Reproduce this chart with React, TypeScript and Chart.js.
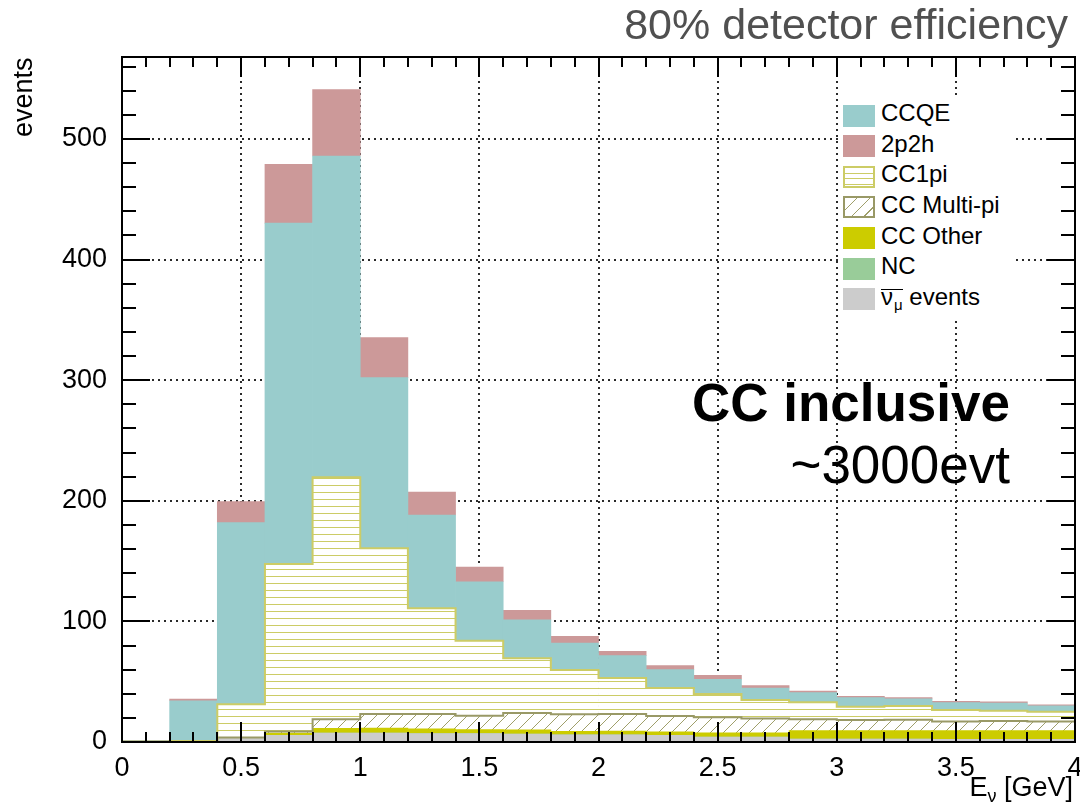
import React, { useEffect, useRef } from 'react';
import { Chart, registerables } from 'chart.js';

Chart.register(...registerables);

// ---- histogram binning (GeV) ----
const binLowEdges = [0, 0.2, 0.4, 0.6, 0.8, 1.0, 1.2, 1.4, 1.6, 1.8, 2.0, 2.2, 2.4, 2.6, 2.8, 3.0, 3.2, 3.4, 3.6, 3.8];
const binWidth = 0.2;

// ---- event counts per bin, one array per interaction channel ----
const antiNumuEvents = [0.3, 0.5, 3, 5.5, 7.5, 7.5, 7, 7, 6.5, 6, 6, 5.5, 4, 4, 2.5, 2.5, 2.5, 2.2, 2.2, 2.2];
const ncEvents = [0, 0, 0, 0, 0, 0, 0, 0, 0, 0, 0, 0, 0, 0, 0, 0, 0, 0, 0, 0];
const ccOtherEvents = [0, 0, 0.5, 2, 3.8, 4, 4, 3.3, 3.5, 2.8, 3, 3, 3.7, 3.7, 6.9, 6.9, 6.9, 7.2, 7.2, 7.2];
const ccMultiPiEvents = [0, 0, 0.3, 1.3, 7.5, 11.7, 12.2, 11.5, 14, 14.2, 14.3, 13.1, 12.8, 11.7, 9.4, 8.8, 9.1, 7.7, 8.0, 7.7];
const cc1piEvents = [0, 0.3, 27.5, 138.8, 200.7, 137.4, 87.7, 62.2, 45.4, 36.7, 29.8, 23.2, 19.3, 15.4, 14.1, 11.1, 11.4, 9.4, 8.6, 8.0];
const ccqeEvents = [0.7, 33.4, 150.6, 282.7, 266.4, 141.5, 77.3, 48.9, 31.8, 22.4, 18.5, 15.2, 12.2, 10.0, 8.0, 7.5, 5.8, 6.1, 6.3, 4.8];
const twoP2hEvents = [0, 1.4, 17.4, 48.7, 55.1, 33.2, 19.1, 12.2, 8.0, 5.5, 3.6, 3.3, 3.3, 1.9, 1.4, 1.1, 1.1, 1.1, 1.1, 1.0];

// ---- axis ticks ----
const xTickValues = [0, 0.5, 1, 1.5, 2, 2.5, 3, 3.5, 4];
const xTickLabels = ['0', '0.5', '1', '1.5', '2', '2.5', '3', '3.5', '4'];
const yTickValues = [0, 100, 200, 300, 400, 500];
const yTickLabels = ['0', '100', '200', '300', '400', '500'];
const xMinorStep = 0.1;
const yMinorStep = 20;
const X_MIN = 0;
const X_MAX = 4;
const Y_MAX = 568;

const FONT = '"Liberation Sans", Arial, Helvetica, sans-serif';
const CANVAS_W = 1100;
const CANVAS_H = 803;
const AREA = { left: 122, right: 1075, top: 57, bottom: 742 };

const COLORS = {
  ccqe: '#99cccc',
  twoP2h: '#cc9999',
  cc1pi: '#cccc66',
  multiPi: '#999966',
  ccOther: '#cccc00',
  nc: '#99cc99',
  antiNumu: '#cccccc',
};

function makeHorizontalHatch(): CanvasPattern {
  const c = document.createElement('canvas');
  c.width = 8;
  c.height = 7;
  const g = c.getContext('2d')!;
  g.fillStyle = '#ffffff';
  g.fillRect(0, 0, 8, 7);
  g.fillStyle = COLORS.cc1pi;
  g.fillRect(0, 2, 8, 1);
  return g.createPattern(c, 'repeat')!;
}

function makeDiagonalHatch(): CanvasPattern {
  const s = 13;
  const c = document.createElement('canvas');
  c.width = s;
  c.height = s;
  const g = c.getContext('2d')!;
  g.fillStyle = '#ffffff';
  g.fillRect(0, 0, s, s);
  g.strokeStyle = '#9f9f6a';
  g.lineWidth = 1;
  g.beginPath();
  for (const off of [-s, 0, s]) {
    g.moveTo(off, s);
    g.lineTo(off + s, 0);
  }
  g.stroke();
  return g.createPattern(c, 'repeat')!;
}

const binPoints = (vals: number[]) => binLowEdges.map((lo, i) => ({ x: lo + binWidth / 2, y: vals[i] }));

const cumulative = (layers: number[][]) => binLowEdges.map((_, i) => layers.reduce((s, l) => s + l[i], 0));

// step outline of a stacked histogram, closed down to zero at both ends
function stepOutline(tops: number[]) {
  const last = binLowEdges.length - 1;
  const hi = binLowEdges[last] + binWidth;
  const pts = [{ x: binLowEdges[0], y: 0 }];
  tops.forEach((t, i) => pts.push({ x: binLowEdges[i], y: t }));
  pts.push({ x: hi, y: tops[last] });
  pts.push({ x: hi, y: 0 });
  return pts;
}

// dotted grid behind the histograms, ROOT-style frame and inward ticks on top
const frameAndGrid = {
  id: 'frameAndGrid',
  beforeDatasetsDraw(chart: any) {
    const { ctx, chartArea: a, scales } = chart;
    const x = scales.x;
    const y = scales.y;
    ctx.save();
    ctx.strokeStyle = '#2a2a2a';
    ctx.lineWidth = 2;
    ctx.setLineDash([2, 4]);
    ctx.beginPath();
    for (const v of xTickValues) {
      if (v <= X_MIN || v >= X_MAX) continue;
      const px = Math.round(x.getPixelForValue(v));
      ctx.moveTo(px, a.top);
      ctx.lineTo(px, a.bottom);
    }
    for (const v of yTickValues) {
      if (v <= 0) continue;
      const py = Math.round(y.getPixelForValue(v));
      ctx.moveTo(a.left, py);
      ctx.lineTo(a.right, py);
    }
    ctx.stroke();
    ctx.restore();
  },
  afterDatasetsDraw(chart: any) {
    const { ctx, chartArea: a, scales } = chart;
    const x = scales.x;
    const y = scales.y;
    ctx.save();
    ctx.strokeStyle = '#000';
    ctx.lineWidth = 2;
    ctx.beginPath();
    const nx = Math.round((X_MAX - X_MIN) / xMinorStep);
    for (let k = 0; k <= nx; k++) {
      const v = X_MIN + k * xMinorStep;
      const px = Math.round(x.getPixelForValue(v));
      const len = k % 5 === 0 ? 20 : 10;
      ctx.moveTo(px, a.bottom);
      ctx.lineTo(px, a.bottom - len);
      ctx.moveTo(px, a.top);
      ctx.lineTo(px, a.top + len);
    }
    for (let v = 0; v <= Y_MAX; v += yMinorStep) {
      const py = Math.round(y.getPixelForValue(v));
      const len = v % 100 === 0 ? 28 : 14;
      ctx.moveTo(a.left, py);
      ctx.lineTo(a.left + len, py);
      ctx.moveTo(a.right, py);
      ctx.lineTo(a.right - len, py);
    }
    ctx.stroke();
    ctx.strokeRect(a.left, a.top, a.right - a.left, a.bottom - a.top);
    ctx.restore();
  },
};

const labelFor = (values: number[], labels: string[]) => (v: any) => {
  const i = values.findIndex((t) => Math.abs(t - Number(v)) < 1e-6);
  return i >= 0 ? labels[i] : '';
};

const legendRows: { label: string; swatch: React.CSSProperties }[] = [
  { label: 'CCQE', swatch: { background: COLORS.ccqe } },
  { label: '2p2h', swatch: { background: COLORS.twoP2h } },
  {
    label: 'CC1pi',
    swatch: {
      background: `repeating-linear-gradient(to bottom, #fff 0px, #fff 4.5px, ${COLORS.cc1pi} 4.5px, ${COLORS.cc1pi} 5.5px)`,
      border: `2px solid ${COLORS.cc1pi}`,
    },
  },
  {
    label: 'CC Multi-pi',
    swatch: {
      background: `repeating-linear-gradient(135deg, #fff 0px, #fff 8px, #9f9f6a 8px, #9f9f6a 9px)`,
      border: `2px solid ${COLORS.multiPi}`,
    },
  },
  { label: 'CC Other', swatch: { background: COLORS.ccOther } },
  { label: 'NC', swatch: { background: COLORS.nc } },
  { label: 'events', swatch: { background: COLORS.antiNumu } },
];

export default function App() {
  const canvasRef = useRef<HTMLCanvasElement>(null);

  useEffect(() => {
    const canvas = canvasRef.current;
    if (!canvas) return;
    Chart.defaults.font.family = FONT;

    const multiPiTop = cumulative([antiNumuEvents, ncEvents, ccOtherEvents, ccMultiPiEvents]);
    const cc1piTop = cumulative([antiNumuEvents, ncEvents, ccOtherEvents, ccMultiPiEvents, cc1piEvents]);

    const chart = new Chart(canvas, {
      type: 'bar',
      data: {
        datasets: [
          { type: 'bar', label: 'anti-numu', data: binPoints(antiNumuEvents), backgroundColor: COLORS.antiNumu, order: 1 },
          { type: 'bar', label: 'NC', data: binPoints(ncEvents), backgroundColor: COLORS.nc, order: 1 },
          { type: 'bar', label: 'CC Other', data: binPoints(ccOtherEvents), backgroundColor: COLORS.ccOther, order: 1 },
          { type: 'bar', label: 'CC Multi-pi', data: binPoints(ccMultiPiEvents), backgroundColor: makeDiagonalHatch(), order: 1 },
          { type: 'bar', label: 'CC1pi', data: binPoints(cc1piEvents), backgroundColor: makeHorizontalHatch(), order: 1 },
          { type: 'bar', label: 'CCQE', data: binPoints(ccqeEvents), backgroundColor: COLORS.ccqe, order: 1 },
          { type: 'bar', label: '2p2h', data: binPoints(twoP2hEvents), backgroundColor: COLORS.twoP2h, order: 1 },
          {
            type: 'line',
            label: 'CC1pi outline',
            data: stepOutline(cc1piTop),
            yAxisID: 'yOutline',
            stepped: true,
            borderColor: COLORS.cc1pi,
            borderWidth: 2,
            pointRadius: 0,
            fill: false,
            order: 0,
          },
          {
            type: 'line',
            label: 'CC Multi-pi outline',
            data: stepOutline(multiPiTop),
            yAxisID: 'yOutline',
            stepped: true,
            borderColor: COLORS.multiPi,
            borderWidth: 2,
            pointRadius: 0,
            fill: false,
            order: 0,
          },
        ] as any,
      },
      options: {
        responsive: false,
        animation: false,
        devicePixelRatio: 1,
        events: [],
        datasets: {
          bar: { barPercentage: 1, categoryPercentage: 1, borderWidth: 0 },
        },
        layout: { padding: { left: 0, top: AREA.top, right: CANVAS_W - AREA.right, bottom: 0 } },
        plugins: { legend: { display: false }, tooltip: { enabled: false }, title: { display: false } },
        scales: {
          x: {
            type: 'linear',
            min: X_MIN,
            max: X_MAX,
            offset: false,
            stacked: true,
            grid: { display: false, offset: false },
            border: { display: false },
            ticks: {
              stepSize: 0.5,
              padding: 2,
              color: '#000',
              maxRotation: 0,
              autoSkip: false,
              font: { family: FONT, size: 27 },
              callback: labelFor(xTickValues, xTickLabels),
            },
            afterFit: (s: any) => {
              s.height = CANVAS_H - AREA.bottom;
            },
          },
          y: {
            type: 'linear',
            min: 0,
            max: Y_MAX,
            stacked: true,
            grid: { display: false },
            border: { display: false },
            ticks: {
              stepSize: 100,
              includeBounds: false,
              padding: 7,
              color: '#000',
              font: { family: FONT, size: 27 },
              callback: labelFor(yTickValues, yTickLabels),
            },
            afterFit: (s: any) => {
              s.width = AREA.left;
            },
          },
          yOutline: {
            type: 'linear',
            display: false,
            min: 0,
            max: Y_MAX,
            stacked: false,
          },
        } as any,
      },
      plugins: [frameAndGrid],
    });

    return () => chart.destroy();
  }, []);

  const rowStep = 30.65;
  const firstRowCenter = 115.5;

  return (
    <div
      style={{
        position: 'absolute',
        left: 0,
        top: 0,
        width: 1080,
        height: 803,
        overflow: 'hidden',
        background: '#fff',
        fontFamily: FONT,
        color: '#000',
      }}
    >
      <canvas
        ref={canvasRef}
        width={CANVAS_W}
        height={CANVAS_H}
        style={{ position: 'absolute', left: 0, top: 0, width: CANVAS_W, height: CANVAS_H }}
      />

      {/* title */}
      <div
        style={{
          position: 'absolute',
          right: 12,
          top: 3,
          fontSize: 43,
          lineHeight: '43px',
          color: '#505050',
          whiteSpace: 'nowrap',
        }}
      >
        80% detector efficiency
      </div>

      {/* y axis title */}
      <div
        style={{
          position: 'absolute',
          left: 10,
          top: 137,
          fontSize: 27,
          lineHeight: '27px',
          whiteSpace: 'nowrap',
          transformOrigin: '0 0',
          transform: 'rotate(-90deg)',
        }}
      >
        events
      </div>

      {/* x axis title */}
      <div
        style={{
          position: 'absolute',
          right: 7,
          top: 774,
          fontSize: 27,
          lineHeight: '27px',
          whiteSpace: 'nowrap',
        }}
      >
        E<span style={{ fontSize: 18, verticalAlign: '-6px', lineHeight: '18px' }}>ν</span> [GeV]
      </div>

      {/* selection annotation */}
      <div
        style={{
          position: 'absolute',
          right: 70,
          top: 376,
          fontSize: 53,
          lineHeight: '53px',
          fontWeight: 'bold',
          whiteSpace: 'nowrap',
        }}
      >
        CC inclusive
      </div>
      <div
        style={{
          position: 'absolute',
          right: 70,
          top: 438,
          fontSize: 53,
          lineHeight: '53px',
          whiteSpace: 'nowrap',
        }}
      >
        ~3000evt
      </div>

      {/* legend */}
      <div style={{ position: 'absolute', left: 838, top: 95, width: 176, height: 222, background: '#fff' }} />
      {legendRows.map((row, i) => {
        const cy = firstRowCenter + i * rowStep;
        return (
          <React.Fragment key={row.label + i}>
            <div
              style={{
                position: 'absolute',
                left: 843,
                top: Math.round(cy - 11),
                width: 32,
                height: 22,
                boxSizing: 'border-box',
                ...row.swatch,
              }}
            />
            <div
              style={{
                position: 'absolute',
                left: 881,
                top: Math.round(cy - 14.5),
                fontSize: 24,
                lineHeight: '24px',
                whiteSpace: 'nowrap',
              }}
            >
              {i === legendRows.length - 1 ? (
                <>
                  <span style={{ position: 'relative', display: 'inline-block', lineHeight: '24px' }}>
                    ν<span style={{ fontSize: 15, verticalAlign: '-5px', lineHeight: '15px', marginLeft: 1 }}>μ</span>
                    <span
                      style={{
                        position: 'absolute',
                        left: 0,
                        right: 0,
                        top: 4,
                        borderTop: '1.5px solid #000',
                      }}
                    />
                  </span>{' '}
                  {row.label}
                </>
              ) : (
                row.label
              )}
            </div>
          </React.Fragment>
        );
      })}
    </div>
  );
}
